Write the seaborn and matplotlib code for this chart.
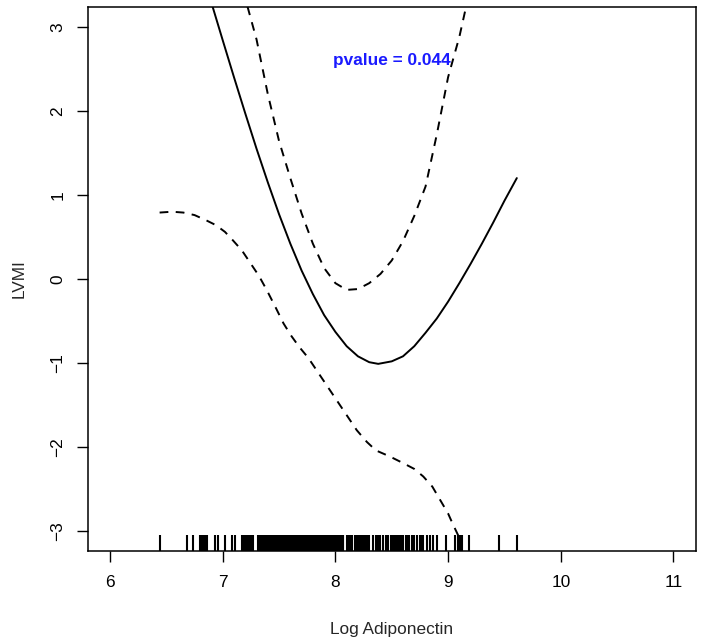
import matplotlib
matplotlib.use("Agg")
from matplotlib import pyplot as plt
import seaborn as sns

# fitted spline and its confidence band
fit_x = [6.91, 7.00, 7.10, 7.20, 7.30, 7.40, 7.50, 7.60, 7.70, 7.80, 7.90, 8.00,
         8.10, 8.20, 8.30, 8.38, 8.50, 8.60, 8.70, 8.80, 8.90, 9.00, 9.10, 9.20,
         9.30, 9.40, 9.50, 9.61]
fit_y = [3.24, 2.84, 2.40, 1.97, 1.55, 1.15, 0.77, 0.42, 0.10, -0.18, -0.43, -0.63,
         -0.80, -0.92, -0.99, -1.01, -0.98, -0.92, -0.80, -0.64, -0.47, -0.27, -0.05,
         0.18, 0.42, 0.67, 0.93, 1.20]

upper_x = [7.22, 7.30, 7.40, 7.50, 7.60, 7.70, 7.80, 7.90, 8.00, 8.10, 8.20, 8.30,
           8.40, 8.50, 8.60, 8.70, 8.80, 8.90, 9.00, 9.10, 9.17]
upper_y = [3.24, 2.85, 2.20, 1.64, 1.20, 0.78, 0.42, 0.13, -0.05, -0.13, -0.12, -0.05,
           0.06, 0.22, 0.45, 0.75, 1.10, 1.72, 2.40, 2.88, 3.30]

lower_x = [6.44, 6.55, 6.65, 6.75, 6.85, 6.94, 7.02, 7.09, 7.17, 7.24, 7.32, 7.39,
           7.47, 7.54, 7.61, 7.68, 7.76, 7.83, 7.92, 8.01, 8.10, 8.19, 8.28, 8.36,
           8.48, 8.60, 8.70, 8.78, 8.86, 8.93, 9.00, 9.04, 9.10]
lower_y = [0.79, 0.80, 0.79, 0.76, 0.70, 0.64, 0.56, 0.46, 0.34, 0.20, 0.04, -0.13,
           -0.34, -0.53, -0.68, -0.81, -0.94, -1.08, -1.26, -1.44, -1.62, -1.80, -1.94,
           -2.04, -2.11, -2.19, -2.26, -2.35, -2.47, -2.63, -2.79, -2.91, -3.08]

# observed log adiponectin values (rug)
rug_x = [6.447, 6.683, 6.737, 6.80, 6.81, 6.82, 6.83, 6.84, 6.85, 6.86, 6.93, 6.96,
         7.02, 7.08, 7.11, 7.17, 7.18, 7.19, 7.20, 7.21, 7.22, 7.23, 7.24, 7.25,
         7.26, 7.27, 7.31,
         7.33, 7.335, 7.34, 7.345, 7.35, 7.355, 7.36, 7.365, 7.37, 7.375, 7.38,
         7.385, 7.39, 7.395, 7.40, 7.405, 7.41, 7.415, 7.42, 7.425, 7.43, 7.435,
         7.44, 7.445, 7.45, 7.455, 7.46, 7.465, 7.47, 7.475, 7.48, 7.485, 7.49,
         7.495, 7.50, 7.505, 7.51, 7.515, 7.52, 7.525, 7.53, 7.535, 7.54, 7.55,
         7.555, 7.56, 7.565, 7.57, 7.575, 7.58, 7.585, 7.59, 7.595, 7.60, 7.605,
         7.61, 7.615, 7.62, 7.625, 7.63, 7.635, 7.64, 7.645, 7.65, 7.655, 7.66,
         7.665, 7.67, 7.675, 7.68, 7.685, 7.69, 7.695, 7.70, 7.705, 7.71, 7.715,
         7.72, 7.725, 7.73, 7.735, 7.74, 7.745, 7.75, 7.755, 7.76, 7.765, 7.77,
         7.775, 7.78, 7.785, 7.79, 7.795, 7.80, 7.805, 7.81, 7.815, 7.82, 7.825,
         7.83, 7.835, 7.84, 7.845, 7.85, 7.855, 7.86, 7.865, 7.87, 7.875, 7.88,
         7.885, 7.89, 7.895, 7.90, 7.905, 7.91, 7.915, 7.92, 7.925, 7.93, 7.935,
         7.94, 7.945, 7.95, 7.955, 7.96, 7.965, 7.97, 7.975, 7.98, 7.985, 7.99,
         7.995, 8.00, 8.005, 8.01, 8.015, 8.02, 8.025, 8.03, 8.035, 8.04, 8.045,
         8.05, 8.055, 8.06, 8.065, 8.07,
         8.10, 8.11, 8.13, 8.14, 8.15, 8.17, 8.18, 8.20, 8.22, 8.24, 8.25, 8.26,
         8.28, 8.29, 8.30, 8.33, 8.36, 8.37, 8.38, 8.40, 8.42, 8.45, 8.46, 8.47,
         8.49, 8.50, 8.51, 8.53, 8.55, 8.56, 8.58, 8.60, 8.63, 8.64, 8.65, 8.68,
         8.70, 8.72, 8.75, 8.76, 8.78, 8.81, 8.84, 8.87, 8.90,
         8.985, 9.06, 9.09, 9.11, 9.12, 9.19, 9.45, 9.61]

x_ticks = [6, 7, 8, 9, 10, 11]
y_ticks = [-3, -2, -1, 0, 1, 2, 3]
pvalue_text = "pvalue = 0.044"

sns.set_style("ticks")
plt.rcParams["font.family"] = ["Liberation Sans", "DejaVu Sans"]

fig = plt.figure(figsize=(7.04, 6.43), dpi=100)
ax = fig.add_axes([0.1243, 0.1426, 0.8643, 0.8471])

dash = (0, (4.5, 3.8))
sns.lineplot(x=fit_x, y=fit_y, ax=ax, color="black", linewidth=1.4)
sns.lineplot(x=upper_x, y=upper_y, ax=ax, color="black", linewidth=1.4, linestyle=dash)
sns.lineplot(x=lower_x, y=lower_y, ax=ax, color="black", linewidth=1.4, linestyle=dash)
sns.rugplot(x=rug_x, ax=ax, height=0.03, color="black", linewidth=1.5)

ax.text(8.50, 2.60, pvalue_text, color="#1a1aff", fontsize=12.4,
        fontweight="bold", ha="center", va="center")

ax.set_xlim(5.8, 11.2)
ax.set_ylim(-3.24, 3.24)
ax.set_xticks(x_ticks)
ax.set_xticklabels([str(t) for t in x_ticks])
ax.set_yticks(y_ticks)
ax.set_yticklabels([str(t).replace("-", "\u2212") for t in y_ticks],
                   rotation=90, va="center")
ax.tick_params(length=7.9, width=1, labelsize=12.4, colors="black")
ax.tick_params(axis="x", pad=9)
ax.tick_params(axis="y", pad=8)
for s in ax.spines.values():
    s.set_color("black")
    s.set_linewidth(1.1)

ax.set_xlabel("Log Adiponectin", fontsize=12.4, labelpad=23)
ax.set_ylabel("LVMI", fontsize=12.4, labelpad=17)

fig.savefig("out.png", dpi=100)
